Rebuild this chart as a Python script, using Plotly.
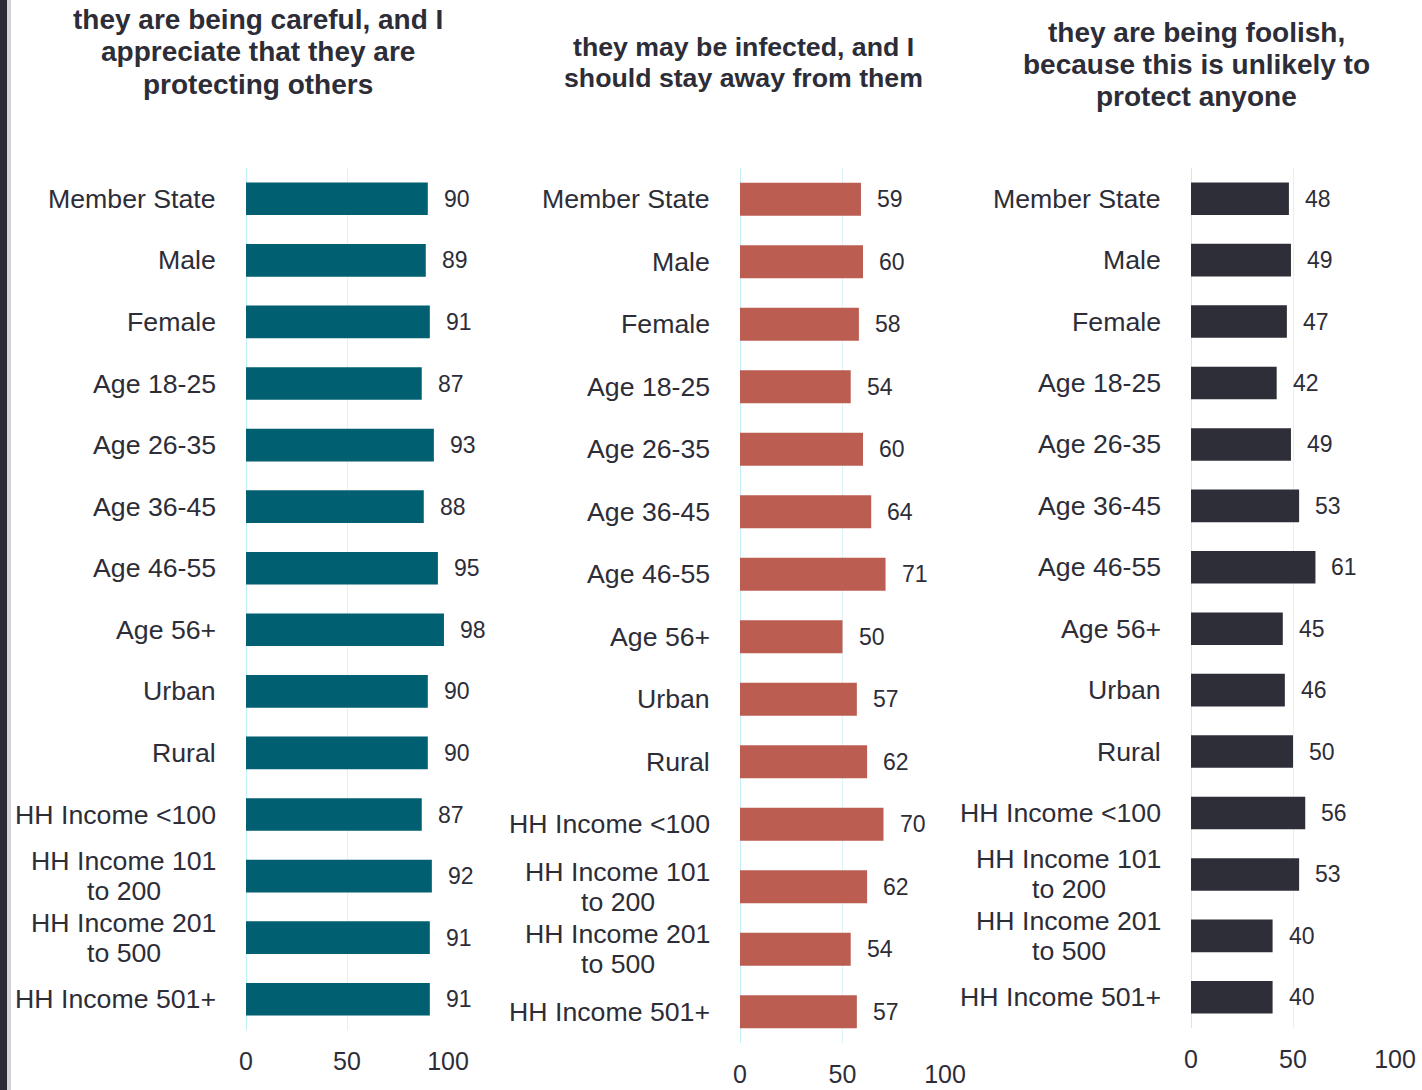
import plotly.graph_objects as go

categories = ["Member State", "Male", "Female", "Age 18-25", "Age 26-35", "Age 36-45",
              "Age 46-55", "Age 56+", "Urban", "Rural", "HH Income <100",
              "HH Income 101<br>to 200", "HH Income 201<br>to 500", "HH Income 501+"]
careful = [90, 89, 91, 87, 93, 88, 95, 98, 90, 90, 87, 92, 91, 91]
infected = [59, 60, 58, 54, 60, 64, 71, 50, 57, 62, 70, 62, 54, 57]
foolish = [48, 49, 47, 42, 49, 53, 61, 45, 46, 50, 56, 53, 40, 40]
titles = ["they are being careful, and I<br>appreciate that they are<br>protecting others",
          "they may be infected, and I<br>should stay away from them",
          "they are being foolish,<br>because this is unlikely to<br>protect anyone"]
x_ticks = [0, 50, 100]

W, H = 1422, 1090
TXT = "#2d2d38"
FONT = "Liberation Sans, Arial, sans-serif"
CAT_SIZE = 26.7
LABEL_GAP = 28      # px between axis and category label
LINE_HALF = 15      # half line spacing of two-line labels (px)

# approximate Arial/Liberation Sans advance widths (em) for centering continuation lines
_W = {"H": .722, "I": .278, " ": .278, "n": .556, "c": .5, "o": .556, "m": .833, "e": .556}


def text_width(s, size):
    return sum(_W.get(ch, .556) for ch in s) * size


panels = [
    dict(vals=careful, color="#005f70", x0=246, x1=448, ytop=168, ybot=1030,
         title_x=258, title_y0=19, title_dy=32.5, title_size=28),
    dict(vals=infected, color="#bb5d51", x0=740, x1=945, ytop=168, ybot=1043,
         title_x=743, title_y0=47, title_dy=31, title_size=26.7),
    dict(vals=foolish, color="#2e2e38", x0=1191, x1=1395, ytop=168, ybot=1028,
         title_x=1196, title_y0=32, title_dy=32.5, title_size=28),
]

fig = go.Figure()
annotations = []
layout = {}
for i, p in enumerate(panels):
    n = "" if i == 0 else str(i + 1)
    xa, ya = "x" + n, "y" + n
    fig.add_trace(go.Bar(x=p["vals"], y=list(range(len(categories))), orientation="h",
                         marker=dict(color=p["color"], line=dict(width=0)), width=0.53,
                         xaxis=xa, yaxis=ya, showlegend=False, hoverinfo="x"))
    layout["xaxis" + n] = dict(domain=[p["x0"] / W, p["x1"] / W], range=[0, 100], anchor=ya,
                               tickvals=x_ticks, ticks="", showgrid=True,
                               gridcolor="#dcf4f9", gridwidth=1, zeroline=False,
                               showline=False, ticklabelstandoff=14, automargin=False,
                               tickfont=dict(size=25, color=TXT, family=FONT),
                               fixedrange=True)
    layout["yaxis" + n] = dict(domain=[1 - p["ybot"] / H, 1 - p["ytop"] / H],
                               range=[len(categories) - 0.5, -0.5], anchor=xa,
                               showticklabels=False, showgrid=False, zeroline=False,
                               showline=False, ticks="", fixedrange=True, automargin=False)
    # zero line
    fig.add_shape(type="line", xref=xa, yref=ya + " domain", x0=0, x1=0, y0=0, y1=1,
                  line=dict(color="#c2eef7", width=2), layer="below")
    for j, (c, v) in enumerate(zip(categories, p["vals"])):
        lines = c.split("<br>")
        if len(lines) == 1:
            annotations.append(dict(x=0, y=j, xref=xa, yref=ya, text=c, showarrow=False,
                                    xanchor="right", xshift=-LABEL_GAP,
                                    font=dict(size=CAT_SIZE, color=TXT, family=FONT)))
        else:
            w1 = text_width(lines[0], CAT_SIZE)
            annotations.append(dict(x=0, y=j, xref=xa, yref=ya, text=lines[0], showarrow=False,
                                    xanchor="right", xshift=-LABEL_GAP, yshift=LINE_HALF,
                                    font=dict(size=CAT_SIZE, color=TXT, family=FONT)))
            annotations.append(dict(x=0, y=j, xref=xa, yref=ya, text=lines[1], showarrow=False,
                                    xanchor="center", xshift=-LABEL_GAP - 1 - w1 / 2,
                                    yshift=-LINE_HALF,
                                    font=dict(size=CAT_SIZE, color=TXT, family=FONT)))
        annotations.append(dict(x=v, y=j, xref=xa, yref=ya, text=str(v), showarrow=False,
                                xanchor="left", xshift=14,
                                font=dict(size=23, color=TXT, family=FONT)))
    for k, line in enumerate(titles[i].split("<br>")):
        ty = p["title_y0"] + k * p["title_dy"]
        annotations.append(dict(x=p["title_x"] / W, y=1 - ty / H, xref="paper", yref="paper",
                                text="<b>" + line + "</b>", showarrow=False, xanchor="center",
                                yanchor="middle", align="center",
                                font=dict(size=p["title_size"], color=TXT, family=FONT)))

fig.add_shape(type="rect", xref="paper", yref="paper", x0=0, x1=7 / W, y0=0, y1=1,
              fillcolor="#2b2b35", line=dict(width=0))
fig.add_shape(type="rect", xref="paper", yref="paper", x0=7 / W, x1=11 / W, y0=0, y1=1,
              fillcolor="#d4d4d8", line=dict(width=0))

fig.update_layout(width=W, height=H, autosize=False,
                  margin=dict(l=0, r=0, t=0, b=0, pad=0, autoexpand=False),
                  paper_bgcolor="white", plot_bgcolor="white",
                  annotations=annotations, bargap=0.47,
                  font=dict(family=FONT, color=TXT), **layout)

fig.write_html("out.html",
               config={"responsive": False, "displayModeBar": False},
               post_script="document.body.style.margin='0';document.body.style.overflow='hidden';")
